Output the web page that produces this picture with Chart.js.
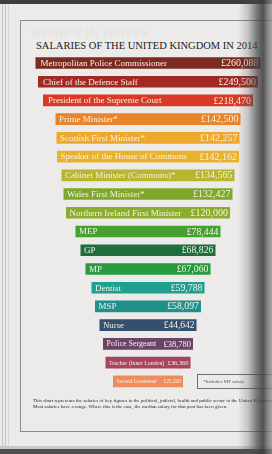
<!DOCTYPE html>
<html>
<head>
<meta charset="utf-8">
<script src="https://cdn.jsdelivr.net/npm/chart.js@4/dist/chart.umd.min.js"></script>
<style>
  html, body { margin: 0; padding: 0; }
  body { width: 272px; height: 454px; position: relative; overflow: hidden; background: #ecebea; font-family: "Liberation Serif", "DejaVu Serif", serif; }
  #topband { position: absolute; left: 0; top: 0; width: 272px; height: 4px; background: #3e3e3e; }
  #botband1 { position: absolute; left: 0; top: 446px; width: 272px; height: 3px; background: #c9c8c8; }
  #botband2 { position: absolute; left: 0; top: 449px; width: 272px; height: 5px; background: #4f4f4f; }
  .edge { position: absolute; top: 4px; width: 1px; height: 442px; background: #c4c4c4; }
  #frame { position: absolute; left: 20px; top: 20px; width: 270px; height: 410px; border: 1px solid #8c8c8c; }
  #ghost { position: absolute; left: 30px; top: 26px; font-size: 13px; line-height: 14px; color: #e2e1e0; letter-spacing: 0.2px; white-space: nowrap; }
  #title { position: absolute; left: 36px; top: 40px; font-size: 10.5px; line-height: 12px; color: #1c1a1a; white-space: nowrap; }
  #note { position: absolute; left: 197px; top: 374px; width: 90px; height: 13px; border: 1px solid #6e6e6e; font-size: 5px; line-height: 13px; color: #555; padding-left: 5px; white-space: nowrap; }
  #foot { position: absolute; left: 33px; top: 398px; font-size: 5px; line-height: 6px; color: #2a2a2a; white-space: nowrap; }
  #shade { position: absolute; left: 0; top: 0; width: 272px; height: 454px; pointer-events: none;
    background: linear-gradient(to right, rgba(70,70,70,0) 0px, rgba(70,70,70,0) 238px, rgba(80,80,80,0.25) 248px, rgba(70,70,70,0.7) 257px, rgba(60,60,60,0.88) 263px, rgba(110,110,110,0.8) 268px, rgba(140,140,140,0.75) 272px); }
  canvas { position: absolute; left: 0; top: 0; }
</style>
</head>
<body>
<div id="topband"></div>
<div class="edge" style="left:2px"></div>
<div class="edge" style="left:5px"></div>
<div class="edge" style="left:8px; background:#d6d6d6"></div>
<div id="frame"></div>
<div id="ghost">WOMEN IN POWER</div>
<div id="title">SALARIES OF THE UNITED KINGDOM IN 2014</div>
<canvas id="c" width="272" height="454"></canvas>
<div id="note">*Includes MP salary</div>
<div id="foot">This chart represents the salaries of key figures in the political, judicial, health and public sector in the United Kingdom.<br>Most salaries have a range. Where this is the case, the median salary for that post has been given.</div>
<div id="botband1"></div>
<div id="botband2"></div>
<div id="shade"></div>
<script>
// ---- data ----
const categories = [
  "Metropolitan Police Commissioner",
  "Chief of the Defence Staff",
  "President of the Supreme Court",
  "Prime Minister*",
  "Scottish First Minister*",
  "Speaker of the House of Commons",
  "Cabinet Minister (Commons)*",
  "Wales First Minister*",
  "Northern Ireland First Minister",
  "MEP",
  "GP",
  "MP",
  "Dentist",
  "MSP",
  "Nurse",
  "Police Sergeant",
  "Teacher (Inner London)",
  "Second Lieutenant"
];
const salaries = [260088, 249500, 218470, 142500, 142257, 142162, 134565, 132427, 120000, 78444, 68826, 67060, 59788, 58097, 44642, 38780, 36360, 25220];
// drawn bar length as it appears in the graphic (decorative, not proportional to salary)
const barLength = [225, 220, 210, 185, 183, 182, 173, 169, 164, 145, 135, 125, 113, 106, 97, 90, 85, 70];

// ---- styles ----
const barColors = ["#7c2b22", "#a32a22", "#d93a26", "#e8842a", "#eea92c", "#e9b22e", "#b8b52e", "#7ea82a", "#8aae2c", "#46a030", "#1f6e3e", "#279c3e", "#1fa090", "#21908a", "#34506e", "#6a4468", "#a8455e", "#ef8c5c"];
const labelSize = [9, 9, 9, 9, 9, 9, 9, 9, 9, 9, 9, 9, 9, 9, 8.8, 8, 5.8, 5.4];
const valueSize = [10, 10, 10, 10, 10, 10, 10, 10, 10, 9.8, 9.8, 9.8, 9.8, 9.8, 9.5, 8.5, 6.4, 5.4];

const fmt = v => "£" + v.toLocaleString("en-GB");

const labelPlugin = {
  id: "barLabels",
  afterDatasetsDraw(chart) {
    const ctx = chart.ctx;
    const meta = chart.getDatasetMeta(0);
    ctx.save();
    ctx.fillStyle = "#f7f1e6";
    ctx.textBaseline = "middle";
    meta.data.forEach((bar, i) => {
      const left = Math.min(bar.x, bar.base);
      const right = Math.max(bar.x, bar.base);
      ctx.font = labelSize[i] + 'px "Liberation Serif", serif';
      ctx.textAlign = "left";
      ctx.fillText(categories[i], left + (i < 3 ? 5 : 3.5), bar.y + 0.5);
      ctx.font = valueSize[i] + 'px "Liberation Serif", serif';
      ctx.textAlign = "right";
      ctx.fillText(fmt(salaries[i]), right - 2, bar.y + 0.5);
    });
    ctx.restore();
  }
};

new Chart(document.getElementById("c"), {
  type: "bar",
  data: {
    labels: categories,
    datasets: [{
      data: barLength.map(l => [-l / 2, l / 2]),
      backgroundColor: barColors,
      borderWidth: 0,
      borderSkipped: false,
      barPercentage: 0.62,
      categoryPercentage: 1
    }]
  },
  options: {
    indexAxis: "y",
    responsive: false,
    devicePixelRatio: 1,
    animation: false,
    layout: { padding: { top: 53.6, bottom: 63.3, left: 0, right: 0 } },
    plugins: { legend: { display: false }, tooltip: { enabled: false }, title: { display: false } },
    scales: {
      x: { display: false, min: -148, max: 124 },
      y: { display: false }
    }
  },
  plugins: [labelPlugin]
});
</script>
</body>
</html>
